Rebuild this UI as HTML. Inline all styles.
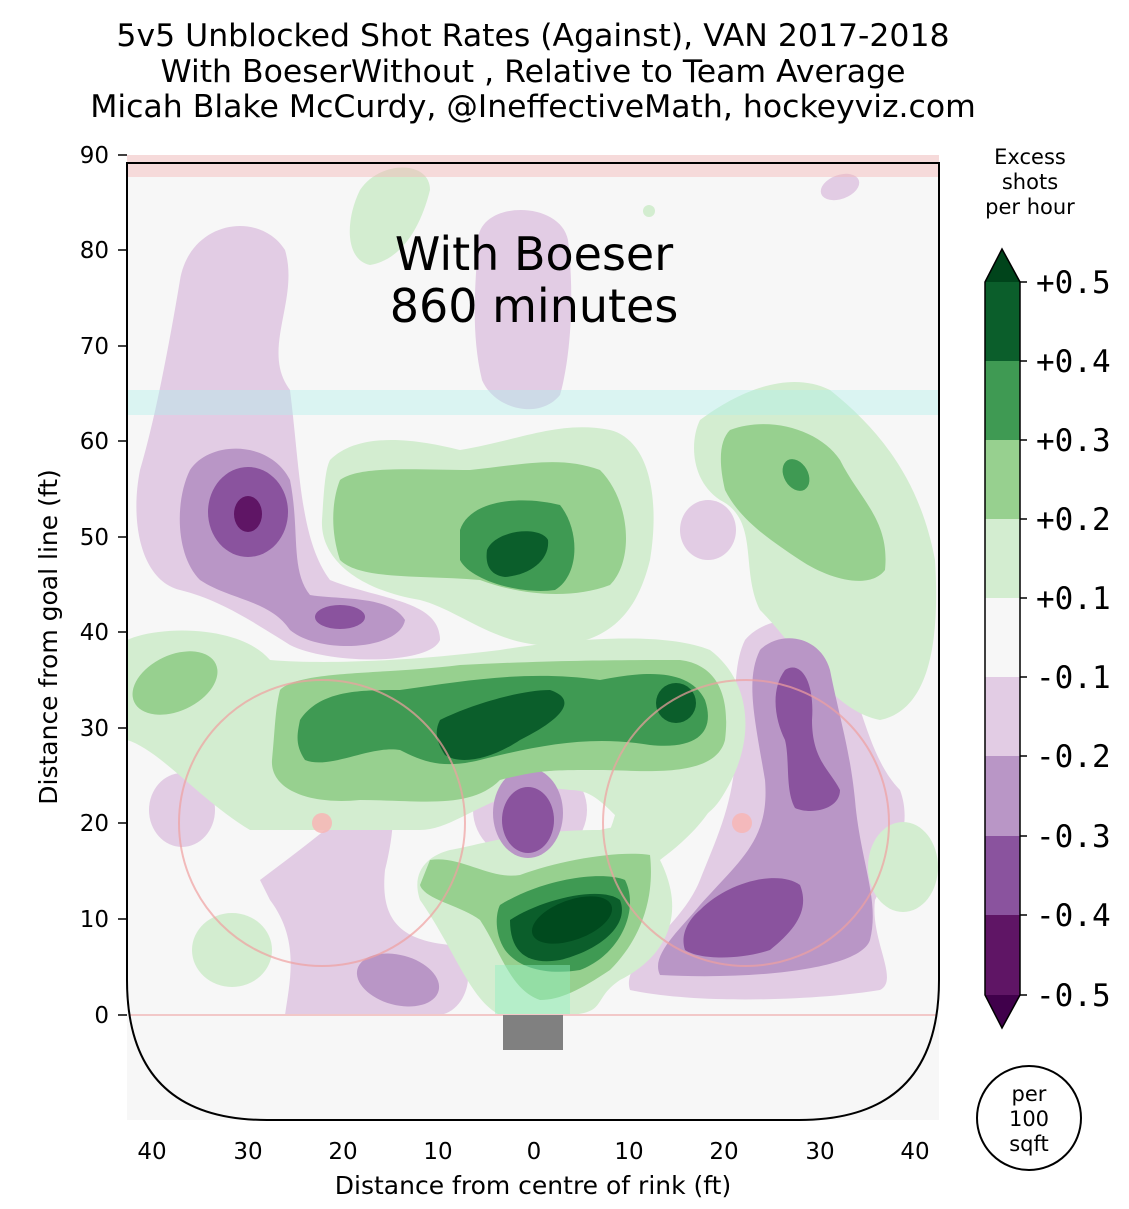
<!DOCTYPE html>
<html><head><meta charset="utf-8"><style>
body{margin:0;background:#fff;}
svg{display:block;font-family:"DejaVu Sans","Liberation Sans",sans-serif;}
</style></head><body>
<svg width="1129" height="1209" viewBox="0 0 1129 1209" xmlns="http://www.w3.org/2000/svg">
<defs>
<clipPath id="plot"><rect x="127" y="155" width="812" height="965"/></clipPath>
</defs>
<text x="533" y="46" font-size="31.5" text-anchor="middle">5v5 Unblocked Shot Rates (Against), VAN 2017-2018</text>
<text x="533" y="82" font-size="31.5" text-anchor="middle">With BoeserWithout , Relative to Team Average</text>
<text x="533" y="117" font-size="31.5" text-anchor="middle">Micah Blake McCurdy, @IneffectiveMath, hockeyviz.com</text>
<rect x="127" y="155" width="812" height="965" fill="#f7f7f7"/>
<g clip-path="url(#plot)">
<g fill="#e2cce4">
<path d="M180,280 C190,220 260,210 285,250 C300,300 260,350 290,390 C300,470 300,540 330,580 C380,600 440,600 440,640 C430,665 330,665 290,645 C250,620 220,600 180,590 C140,580 130,520 140,470 C155,420 170,340 180,280 Z"/>
<path d="M478,240 C480,200 560,200 568,240 C575,300 570,360 560,395 C540,420 495,410 482,380 C470,330 476,280 478,240 Z"/>
<ellipse cx="530" cy="810" rx="57" ry="52"/>
<path d="M745,640 C770,610 830,615 840,650 C860,700 870,760 900,790 C915,830 890,870 875,900 C870,940 900,980 880,990 C820,1000 700,1005 630,990 C620,960 680,930 700,880 C720,830 740,790 735,720 C735,690 735,660 745,640 Z"/>
<path d="M260,880 C300,850 340,820 370,790 C400,780 395,830 385,870 C380,920 400,940 450,945 C480,960 470,1010 440,1015 L285,1015 C290,980 300,940 270,900 Z"/>
<ellipse cx="182" cy="810" rx="33" ry="37"/>
<ellipse cx="708" cy="530" rx="28" ry="30"/>
<ellipse cx="840" cy="187" rx="20" ry="12" transform="rotate(-20 840 187)"/>
</g>
<g fill="#d3edd0">
<path d="M360,190 C380,160 430,160 430,190 C420,230 400,260 370,265 C345,260 345,220 360,190 Z"/>
<path d="M330,460 C360,430 420,440 460,450 C520,440 560,420 610,430 C650,440 660,500 650,560 C640,600 620,640 560,645 C500,650 460,610 420,600 C360,590 320,560 322,520 C324,490 325,470 330,460 Z"/>
<path d="M700,420 C740,390 790,370 830,390 C880,430 920,480 935,560 C940,640 930,710 880,720 C830,710 800,650 760,610 C740,570 760,520 720,500 C690,480 690,440 700,420 Z"/>
<path d="M127,640 C160,625 240,625 270,660 C330,665 420,660 500,650 C560,640 660,630 710,650 C750,680 760,740 720,800 C700,830 650,840 620,820 C600,800 590,790 570,790 C500,780 460,830 420,830 C360,830 320,830 250,830 C200,800 160,750 127,740 Z"/>
<path d="M600,830 C640,820 650,830 660,860 C690,920 660,960 620,980 C590,1000 610,1015 560,1015 L500,1015 C470,1000 455,950 420,900 C410,870 430,855 450,850 C480,845 520,830 600,830 Z"/>
<ellipse cx="232" cy="950" rx="40" ry="37"/>
<ellipse cx="903" cy="867" rx="35" ry="45"/>
<ellipse cx="649" cy="211" rx="6" ry="6"/>
<path d="M600,660 C620,720 630,780 610,830 L660,860 C700,830 740,790 740,700 Z"/>
</g>
<g fill="#b996c6">
<path d="M190,470 C210,440 270,440 290,480 C300,530 290,570 310,595 C340,600 390,595 405,620 C400,650 320,655 290,630 C270,600 230,600 200,580 C175,555 175,500 190,470 Z"/>
<ellipse cx="528" cy="813" rx="35" ry="45"/>
<path d="M760,650 C780,630 820,635 830,670 C840,720 850,750 855,800 C860,860 880,900 870,940 C860,970 750,980 660,975 C650,955 680,930 700,905 C740,860 770,840 765,780 C755,720 745,680 760,650 Z"/>
<ellipse cx="398" cy="980" rx="42" ry="25" transform="rotate(15 398 980)"/>
</g>
<g fill="#97d08f">
<path d="M340,480 C360,465 420,470 470,470 C520,465 560,455 600,470 C630,500 635,560 610,585 C570,600 520,595 480,580 C420,575 360,580 340,560 C330,530 332,500 340,480 Z"/>
<path d="M730,430 C770,415 820,430 840,460 C860,500 890,520 885,570 C870,590 830,580 800,560 C770,540 740,520 725,490 C718,460 720,440 730,430 Z"/>
<path d="M280,690 C300,670 380,675 460,665 C560,660 620,660 680,660 C720,665 730,700 725,740 C715,780 640,770 600,770 C550,770 540,770 500,780 C470,810 420,800 360,800 C310,805 270,790 272,760 C275,730 275,710 280,690 Z"/>
<ellipse cx="175" cy="683" rx="45" ry="28" transform="rotate(-25 175 683)"/>
<path d="M430,860 C460,855 490,880 520,875 C560,860 620,850 650,855 C655,900 640,940 610,970 C580,990 560,1000 540,1000 C510,990 500,950 480,920 C460,905 425,900 420,885 Z"/>
</g>
<g fill="#8a539e">
<ellipse cx="248" cy="512" rx="40" ry="45"/>
<ellipse cx="340" cy="617" rx="25" ry="12"/>
<ellipse cx="528" cy="820" rx="26" ry="33"/>
<path d="M785,670 C800,660 815,680 812,720 C812,760 830,770 840,790 C840,810 810,815 795,808 C785,790 790,760 785,740 C775,720 770,690 785,670 Z"/>
<path d="M700,910 C730,880 780,870 800,885 C810,910 795,930 770,950 C740,960 700,960 685,950 C680,935 688,920 700,910 Z"/>
</g>
<g fill="#3f9a53">
<path d="M460,530 C470,500 520,495 560,505 C580,530 580,575 555,590 C520,595 470,580 460,560 Z"/>
<path d="M300,720 C320,690 360,690 400,690 C470,680 530,670 600,680 C650,670 690,670 705,700 C715,730 700,750 650,745 C590,735 540,745 480,760 C440,770 420,760 400,750 C370,745 330,770 305,760 C295,745 297,735 300,720 Z"/>
<path d="M500,905 C540,880 600,870 625,880 C640,910 620,955 580,970 C550,975 520,970 505,950 C495,935 495,915 500,905 Z"/>
<ellipse cx="796" cy="475" rx="12" ry="17" transform="rotate(-30 796 475)"/>
</g>
<g fill="#5f1565"><ellipse cx="248" cy="514" rx="14" ry="18"/></g>
<g fill="#0b5e2b">
<path d="M487,550 C495,530 540,525 548,540 C550,560 530,575 505,577 C490,575 485,565 487,550 Z"/>
<path d="M440,720 C470,705 520,690 550,690 C580,700 560,720 520,740 C490,760 460,765 445,755 C435,740 435,730 440,720 Z"/>
<ellipse cx="676" cy="703" rx="20" ry="20"/>
<path d="M510,920 C540,900 600,885 620,900 C630,925 600,950 560,960 C530,965 510,955 510,920 Z"/>
</g>
<g fill="#004a1e"><ellipse cx="572" cy="920" rx="42" ry="20" transform="rotate(-20 572 920)"/></g>
<rect x="127" y="155" width="812" height="22" fill="#f4b6b6" opacity="0.45"/>
<rect x="127" y="390" width="812" height="25" fill="#aff0ec" opacity="0.4"/>
<rect x="495" y="965" width="75" height="50" fill="#90f0c0" opacity="0.45"/>
<line x1="127" y1="1015" x2="939" y2="1015" stroke="#f2c8c8" stroke-width="2"/>
<circle cx="322" cy="823" r="143" fill="none" stroke="#f0a0a0" stroke-width="2" opacity="0.7"/>
<circle cx="746" cy="823" r="143" fill="none" stroke="#f0a0a0" stroke-width="2" opacity="0.7"/>
<circle cx="322" cy="823" r="10" fill="#f7b5b5" opacity="0.85"/>
<circle cx="742" cy="823" r="10" fill="#f7b5b5" opacity="0.85"/>
<rect x="503" y="1015" width="60" height="35" fill="#808080"/>
</g>
<path d="M127,980 Q127,1120 267,1120 L127,1120 Z M939,980 Q939,1120 799,1120 L939,1120 Z" fill="#f7f7f7"/>
<path d="M127,163 H939 V980 Q939,1120 799,1120 H267 Q127,1120 127,980 Z" fill="none" stroke="#000" stroke-width="2"/>
<text x="534" y="270" font-size="46" text-anchor="middle">With Boeser</text>
<text x="534" y="322" font-size="46" text-anchor="middle">860 minutes</text>
<g font-size="23" text-anchor="end">
<text x="109" y="163">90</text><text x="109" y="258">80</text><text x="109" y="354">70</text>
<text x="109" y="449">60</text><text x="109" y="545">50</text><text x="109" y="640">40</text>
<text x="109" y="736">30</text><text x="109" y="831">20</text><text x="109" y="927">10</text><text x="109" y="1023">0</text>
</g>
<g stroke="#000" stroke-width="1.5">
<line x1="118" y1="155" x2="127" y2="155"/><line x1="118" y1="250" x2="127" y2="250"/><line x1="118" y1="346" x2="127" y2="346"/>
<line x1="118" y1="441" x2="127" y2="441"/><line x1="118" y1="537" x2="127" y2="537"/><line x1="118" y1="632" x2="127" y2="632"/>
<line x1="118" y1="728" x2="127" y2="728"/><line x1="118" y1="823" x2="127" y2="823"/><line x1="118" y1="919" x2="127" y2="919"/>
<line x1="118" y1="1015" x2="127" y2="1015"/>
</g>
<text transform="translate(57 637) rotate(-90)" font-size="25" text-anchor="middle">Distance from goal line (ft)</text>
<g font-size="23" text-anchor="middle">
<text x="152" y="1159">40</text><text x="248" y="1159">30</text><text x="343" y="1159">20</text><text x="438" y="1159">10</text>
<text x="534" y="1159">0</text><text x="629" y="1159">10</text><text x="724" y="1159">20</text><text x="820" y="1159">30</text><text x="915" y="1159">40</text>
</g>
<text x="533" y="1194" font-size="25" text-anchor="middle">Distance from centre of rink (ft)</text>
<g font-size="21" text-anchor="middle"><text x="1030" y="164">Excess</text><text x="1030" y="189">shots</text><text x="1030" y="214">per hour</text></g>
<polygon points="985,282 1002,249 1020,282" fill="#00441b"/>
<polygon points="985,995 1002,1028 1020,995" fill="#40004b"/>
<rect x="985" y="282" width="35" height="79" fill="#0b5e2b"/>
<rect x="985" y="361" width="35" height="79" fill="#3f9a53"/>
<rect x="985" y="440" width="35" height="79" fill="#97d08f"/>
<rect x="985" y="519" width="35" height="79" fill="#d3edd0"/>
<rect x="985" y="598" width="35" height="79" fill="#f7f7f7"/>
<rect x="985" y="677" width="35" height="79" fill="#e2cce4"/>
<rect x="985" y="756" width="35" height="80" fill="#b996c6"/>
<rect x="985" y="836" width="35" height="79" fill="#8a539e"/>
<rect x="985" y="915" width="35" height="80" fill="#5f1565"/>
<polygon points="985,282 1002,249 1020,282 1020,995 1002,1028 985,995" fill="none" stroke="#000" stroke-width="1.5"/>
<g font-family="'DejaVu Sans Mono','Liberation Mono',monospace" font-size="31">
<text x="1036" y="293">+0.5</text><text x="1036" y="372">+0.4</text><text x="1036" y="451">+0.3</text><text x="1036" y="530">+0.2</text>
<text x="1036" y="609">+0.1</text><text x="1036" y="688">-0.1</text><text x="1036" y="767">-0.2</text><text x="1036" y="847">-0.3</text>
<text x="1036" y="926">-0.4</text><text x="1036" y="1006">-0.5</text>
</g>
<g stroke="#000" stroke-width="1.5">
<line x1="1020" y1="282" x2="1027" y2="282"/><line x1="1020" y1="361" x2="1027" y2="361"/><line x1="1020" y1="440" x2="1027" y2="440"/>
<line x1="1020" y1="519" x2="1027" y2="519"/><line x1="1020" y1="598" x2="1027" y2="598"/><line x1="1020" y1="677" x2="1027" y2="677"/>
<line x1="1020" y1="756" x2="1027" y2="756"/><line x1="1020" y1="836" x2="1027" y2="836"/><line x1="1020" y1="915" x2="1027" y2="915"/>
<line x1="1020" y1="995" x2="1027" y2="995"/>
</g>
<circle cx="1029" cy="1118" r="52" fill="#fff" stroke="#000" stroke-width="2"/>
<g font-size="21" text-anchor="middle"><text x="1029" y="1101">per</text><text x="1029" y="1126">100</text><text x="1029" y="1151">sqft</text></g>
</svg>
</body></html>
